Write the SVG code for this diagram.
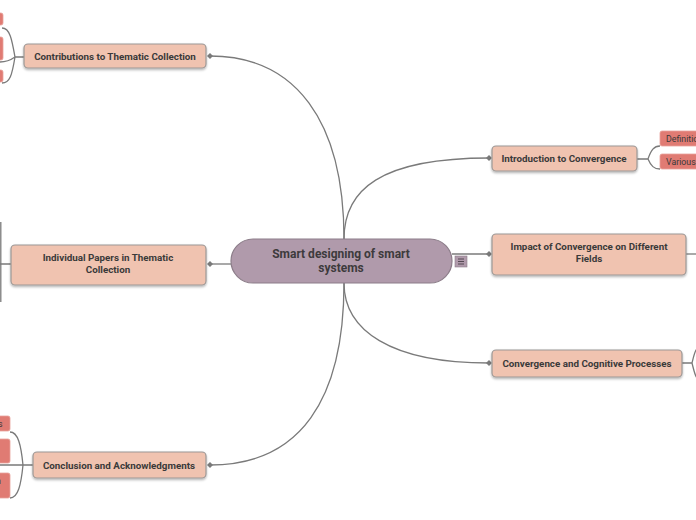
<svg xmlns="http://www.w3.org/2000/svg" width="696" height="520" viewBox="0 0 696 520">
<defs>
<filter id="sh" x="-10%" y="-30%" width="120%" height="170%">
<feDropShadow dx="0" dy="1.5" stdDeviation="1.2" flood-color="#000" flood-opacity="0.3"/>
</filter>
<marker id="dm" viewBox="0 0 8 8" refX="4" refY="4" markerWidth="6" markerHeight="6" markerUnits="userSpaceOnUse" orient="auto">
<path d="M0 4 L4 0 L8 4 L4 8 Z" fill="#7a7a7a"/>
</marker>
<style>
.c{fill:none;stroke:#7a7a7a;stroke-width:1.3}
.cm{fill:none;stroke:#7a7a7a;stroke-width:1.3;marker-end:url(#dm)}
.n{fill:#f0c3b0;stroke:#9c9896;stroke-width:1.2;filter:url(#sh)}
.s{fill:#e07b73;stroke:#e8a29c;stroke-width:0.8}
.t{font-family:Roboto,"Liberation Sans",sans-serif;font-weight:bold;font-size:9.8px;fill:#3a3a3a;text-anchor:middle}
.st{font-family:Roboto,"Liberation Sans",sans-serif;font-size:8.8px;fill:#3a3a3a}
.ct{font-family:Roboto,"Liberation Sans",sans-serif;font-weight:bold;font-size:12px;fill:#3d3a3c;text-anchor:middle}
</style>
</defs>
<rect width="696" height="520" fill="#ffffff"/>
<g id="connectors">
<path class="cm" d="M344 239 C344 120 295 56 210 56"/>
<path class="cm" d="M231 264 L210 264"/>
<path class="cm" d="M344 283 C344 400 300 465 210 465"/>
<path class="cm" d="M344 239 C344 190 380 158 489 158"/>
<path class="cm" d="M452 254 L489 254"/>
<path class="cm" d="M344 283 C344 330 390 363 489 363"/>
<path class="c" d="M24 57 L15 57 M15 57 C12 40 10 28 2 28 M15 57 Q8 62 0 62 M15 57 C12 75 10 83 2 83"/>
<path class="c" d="M11 264 L0 264 M0.8 222 L0.8 302"/>
<path class="c" d="M33 465 L0 465 M23 465 C21 445 18 432 10 432 M23 465 C21 485 18 498 10 498"/>
<path class="c" d="M637 159 L648 159 M648 159 C651 150 654 146 660 146 M648 159 C651 166 654 169 660 169"/>
<path class="c" d="M686 254 L696 254"/>
<path class="c" d="M682 363 L692 363 M692 363 C694 355 695 350 697 349 M692 363 C694 371 695 376 697 378"/>
</g>
<g id="center">
<rect x="231" y="239" width="221" height="44" rx="22" fill="#b09aab" stroke="#8c7d89" stroke-width="1.2"/>
<text class="ct" x="341" y="258">Smart designing of smart</text>
<text class="ct" x="341" y="272">systems</text>
<rect x="455" y="256" width="12" height="11" fill="#b09aab" stroke="#8c7d89" stroke-width="0.6"/>
<path d="M458 259 H464 M458 261.5 H464 M458 264 H464" stroke="#4a3f48" stroke-width="0.9"/>
</g>
<g id="n-contrib">
<rect class="n" x="24" y="44" width="182" height="24" rx="4"/>
<text class="t" x="115" y="60">Contributions to Thematic Collection</text>
</g>
<g id="n-contrib-children">
<rect class="s" x="-20" y="13" width="23" height="12" rx="2"/>
<rect class="s" x="-20" y="37" width="23" height="23" rx="2"/>
<rect class="s" x="-20" y="70" width="23" height="12" rx="2"/>
</g>
<g id="n-papers">
<rect class="n" x="11" y="245" width="195" height="40" rx="4"/>
<text class="t" x="108" y="261">Individual Papers in Thematic</text>
<text class="t" x="108" y="273">Collection</text>
</g>
<g id="n-concl">
<rect class="n" x="33" y="452" width="173" height="26" rx="4"/>
<text class="t" x="119" y="469">Conclusion and Acknowledgments</text>
</g>
<g id="n-concl-children">
<rect class="s" x="-20" y="416" width="30" height="15" rx="2"/>
<text class="st" x="-2" y="426.5">s</text>
<rect class="s" x="-20" y="439" width="30" height="24" rx="2"/>
<rect class="s" x="-20" y="473" width="30" height="25" rx="2"/>
<text class="st" x="-4" y="484">n</text>
</g>
<g id="n-intro">
<rect class="n" x="492" y="146" width="145" height="25" rx="4"/>
<text class="t" x="564" y="162">Introduction to Convergence</text>
</g>
<g id="n-intro-children">
<rect class="s" x="660" y="131" width="50" height="15" rx="2"/>
<text class="st" x="666" y="141.5">Definition</text>
<rect class="s" x="660" y="154" width="50" height="15" rx="2"/>
<text class="st" x="666" y="164.5">Various</text>
</g>
<g id="n-impact">
<rect class="n" x="492" y="234" width="194" height="41" rx="4"/>
<text class="t" x="589" y="250">Impact of Convergence on Different</text>
<text class="t" x="589" y="262">Fields</text>
</g>
<g id="n-cog">
<rect class="n" x="492" y="350" width="190" height="27" rx="4"/>
<text class="t" x="587" y="367">Convergence and Cognitive Processes</text>
</g>
</svg>
